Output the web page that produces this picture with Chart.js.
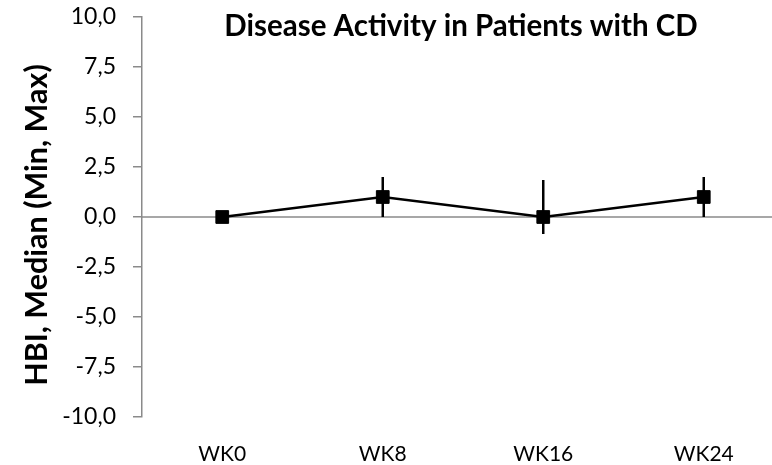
<!DOCTYPE html>
<html>
<head>
<meta charset="utf-8">
<script src="https://cdn.jsdelivr.net/npm/chart.js@4"></script>
<style>
  html, body { margin: 0; padding: 0; background: #fff; overflow: hidden; }
  #wrap { width: 784px; height: 465px; }
</style>
</head>
<body>
<div id="wrap"><canvas id="hbiChart"></canvas></div>
<script>
const weeks = ['WK0', 'WK8', 'WK16', 'WK24'];
const medianHBI = [0, 1, 0, 1];
const minHBI = [0, 0, -0.85, 0];
const maxHBI = [0, 2, 1.85, 2];
const yTicks = [-10, -7.5, -5, -2.5, 0, 2.5, 5, 7.5, 10];

const fontFamily = 'Lato, "Open Sans", sans-serif';
const axisGrey = '#8a8a8a';

// zero line, error bars, chart title and axis title
const extras = {
    id: 'extras',
    beforeDatasetsDraw(chart) {
        const { ctx, chartArea, scales } = chart;
        const y0 = scales.y.getPixelForValue(0);
        ctx.save();
        ctx.strokeStyle = axisGrey;
        ctx.lineWidth = 1.5;
        ctx.beginPath();
        ctx.moveTo(chartArea.left, y0);
        ctx.lineTo(chartArea.right, y0);
        ctx.stroke();

        ctx.strokeStyle = '#000';
        ctx.lineWidth = 2.5;
        weeks.forEach((w, i) => {
            const x = scales.x.getPixelForValue(i);
            ctx.beginPath();
            ctx.moveTo(x, scales.y.getPixelForValue(minHBI[i]));
            ctx.lineTo(x, scales.y.getPixelForValue(maxHBI[i]));
            ctx.stroke();
        });
        ctx.restore();
    },
    afterDraw(chart) {
        const { ctx, chartArea } = chart;
        ctx.save();
        ctx.fillStyle = '#000';
        ctx.font = 'bold 29.5px ' + fontFamily;
        ctx.textAlign = 'center';
        ctx.textBaseline = 'alphabetic';
        ctx.fillText('Disease Activity in Patients with CD', (chartArea.left + chartArea.right) / 2 - 2, 36);

        ctx.translate(37, 225);
        ctx.rotate(-Math.PI / 2);
        ctx.font = 'bold 30.5px ' + fontFamily;
        ctx.textBaseline = 'middle';
        ctx.fillText('HBI, Median (Min, Max)', 0, 0);
        ctx.restore();
    }
};

new Chart(document.getElementById('hbiChart'), {
    type: 'line',
    data: {
        labels: weeks,
        datasets: [{
            data: medianHBI,
            borderColor: '#000',
            borderWidth: 2.5,
            backgroundColor: '#000',
            pointStyle: 'rect',
            pointRadius: 9,
            pointBorderWidth: 1,
            tension: 0,
            clip: false
        }]
    },
    options: {
        responsive: true,
        maintainAspectRatio: false,
        animation: false,
        layout: { autoPadding: false, padding: { top: 17, right: 0, bottom: 0, left: 0 } },
        plugins: {
            legend: { display: false },
            title: { display: false },
            tooltip: { enabled: false }
        },
        scales: {
            x: {
                type: 'category',
                offset: true,
                afterFit: s => { s.height = 48; s.paddingLeft = 0; s.paddingRight = 0; },
                grid: { display: false, drawTicks: false },
                border: { display: false },
                ticks: { color: '#000', padding: 25, font: { family: fontFamily, size: 21 } }
            },
            y: {
                min: -10,
                max: 10,
                afterFit: s => { s.width = 142; s.paddingTop = 0; s.paddingBottom = 0; },
                afterBuildTicks: s => { s.ticks = yTicks.map(v => ({ value: v })); },
                grid: { drawOnChartArea: false, tickLength: 9, color: axisGrey, lineWidth: 1.5 },
                border: { color: axisGrey, width: 1.5 },
                ticks: {
                    color: '#000',
                    padding: 17,
                    font: { family: fontFamily, size: 23 },
                    callback: v => v.toFixed(1).replace('.', ',')
                }
            }
        }
    },
    plugins: [extras]
});
</script>
</body>
</html>
